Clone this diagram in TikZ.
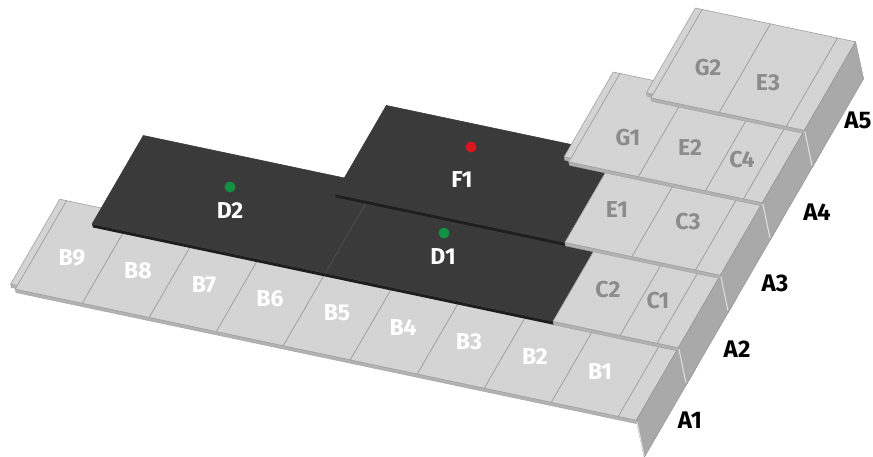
\documentclass[tikz,border=0pt]{standalone}
\usepackage{fontspec}
\setmainfont{Fira Sans}
\definecolor{panel}{HTML}{D4D4D4}
\definecolor{seam}{HTML}{A0A0A0}
\definecolor{darkpanel}{HTML}{3A3A3A}
\definecolor{darkseam}{HTML}{4E4E4E}
\definecolor{stripcol}{HTML}{B2B2B2}
\definecolor{darkstripcol}{HTML}{1E1E1E}
\definecolor{facecol}{HTML}{A9A9A9}
\definecolor{labelgrey}{HTML}{8C8C8C}
\definecolor{pingreen}{HTML}{119141}
\definecolor{pinred}{HTML}{D9161F}

% end face of a row (right-hand fold), between depths #1 and #2
\newcommand\rowface[2]{%
  \path[endface] (9.27,#1) -- (9.27,#2) -- ([shift={(8pt,-37pt)}]9.27,#2)
    -- ([shift={(8pt,-37pt)}]9.27,#1) -- cycle;
  \draw[bevel] ([shift={(0.6pt,-1.5pt)}]9.27,#1) -- ([shift={(7.6pt,-35pt)}]9.27,#1);
}
% thin front edge of a row: style, from u, to u, at depth v
\newcommand\frontstrip[4]{%
  \path[#1] (#2,#4) -- (#3,#4) -- ([shift={(0.8pt,-3.5pt)}]#3,#4)
    -- ([shift={(0.8pt,-3.5pt)}]#2,#4) -- cycle;
}

\begin{document}
\begin{tikzpicture}[x=1pt,y=1pt,
  lite/.style={fill=panel, draw=seam, line width=0.6pt, line join=round},
  darkp/.style={fill=darkpanel, draw=darkpanel, line width=0.6pt, line join=round},
  seamline/.style={draw=seam, line width=0.8pt},
  dseamline/.style={draw=darkseam, line width=0.8pt},
  edgestrip/.style={fill=stripcol, draw=seam, line width=0.4pt},
  darkstrip/.style={fill=darkstripcol},
  endface/.style={fill=facecol, draw=facecol!88!black, line width=0.5pt, line join=round},
  bevel/.style={draw=panel!85!white, line width=1.2pt, line cap=round},
  lbl/.style={font=\fontsize{23}{23}\selectfont\bfseries, inner sep=0pt},
  wlbl/.style={lbl, text=white},
  glbl/.style={lbl, text=labelgrey},
  rowlbl/.style={inner sep=0pt, text=black, font=\fontsize{24}{24}\selectfont\bfseries},
  pin/.style={circle, inner sep=0pt, minimum size=11pt}
]
\useasboundingbox (0,0) rectangle (873,-456);

% u runs along a row (one panel per unit), v runs up the slope (one row step per unit)
\begin{scope}[shift={(15.25pt,-289.1pt)}, x={(67pt,-14.15pt)}, y={(42pt,72.5pt)}]

  % ---- row A1 : B9 ... B1
  \frontstrip{edgestrip}{0}{9.27}{0}
  \frontstrip{edgestrip}{-0.1}{0}{0.05}
  \path[lite] (0,0) -- (9.27,0) -- (9.27,1.22) -- (0,1.22) -- cycle;
  \path[lite] (-0.1,0.05) -- (0,0.05) -- (0,1.22) -- (-0.1,1.22) -- cycle;
  \foreach \u in {1,...,9} \draw[seamline] (\u,0) -- (\u,1.22);
  \rowface{0}{1.22}

  % ---- row A2 : D2, D1, C2, C1
  \frontstrip{darkstrip}{0.52}{7.4}{1}
  \frontstrip{edgestrip}{7.4}{9.27}{1}
  \path[darkp] (0.52,1) -- (7.4,1) -- (7.4,2.22) -- (0.52,2.22) -- cycle;
  \draw[dseamline] (4.0,1) -- (4.0,2.22);
  \path[lite] (7.4,1) -- (9.27,1) -- (9.27,2.22) -- (7.4,2.22) -- cycle;
  \foreach \u in {8.4,8.95} \draw[seamline] (\u,1) -- (\u,2.22);
  \rowface{1}{2.22}

  % ---- row A3 : F1, E1, C3
  \frontstrip{darkstrip}{3.52}{6.95}{2}
  \frontstrip{edgestrip}{6.95}{9.27}{2}
  \path[darkp] (3.52,2) -- (6.95,2) -- (6.95,3.22) -- (3.52,3.22) -- cycle;
  \path[lite] (6.95,2) -- (9.27,2) -- (9.27,3.22) -- (6.95,3.22) -- cycle;
  \foreach \u in {7.95,8.9} \draw[seamline] (\u,2) -- (\u,3.22);
  \rowface{2}{3.22}

  % ---- row A4 : G1, E2, C4
  \frontstrip{edgestrip}{6.38}{9.27}{3}
  \frontstrip{edgestrip}{6.28}{6.38}{3.05}
  \path[lite] (6.38,3) -- (9.27,3) -- (9.27,4.22) -- (6.38,4.22) -- cycle;
  \path[lite] (6.28,3.05) -- (6.38,3.05) -- (6.38,4.22) -- (6.28,4.22) -- cycle;
  \foreach \u in {7.42,8.42,8.99} \draw[seamline] (\u,3) -- (\u,4.22);
  \rowface{3}{4.22}

  % ---- row A5 : G2, E3
  \frontstrip{edgestrip}{6.98}{9.27}{4}
  \frontstrip{edgestrip}{6.88}{6.98}{4.05}
  \path[lite] (6.98,4) -- (9.27,4) -- (9.27,5.22) -- (6.98,5.22) -- cycle;
  \path[lite] (6.88,4.05) -- (6.98,4.05) -- (6.98,5.22) -- (6.88,5.22) -- cycle;
  \foreach \u in {8.0,9.0} \draw[seamline] (\u,4) -- (\u,5.22);
  \rowface{4}{5.22}
\end{scope}

% ---- panel labels
\node[wlbl] (b9) at (72,-258) {B9};
\node[wlbl] (b8) at (138,-271) {B8};
\node[wlbl] (b7) at (204,-285) {B7};
\node[wlbl] (b6) at (270,-299) {B6};
\node[wlbl] (b5) at (337,-313) {B5};
\node[wlbl] (b4) at (403,-328) {B4};
\node[wlbl] (b3) at (469,-342) {B3};
\node[wlbl] (b2) at (535,-357) {B2};
\node[wlbl] (b1) at (600,-372) {B1};

\node[glbl] (c2) at (608,-290) {C2};
\node[glbl] (c1) at (658,-301) {C1};
\node[glbl] (e1) at (617,-210) {E1};
\node[glbl] (c3) at (688,-222) {C3};
\node[glbl] (g1) at (628,-138) {G1};
\node[glbl] (e2) at (690,-148) {E2};
\node[glbl] (c4) at (742,-160) {C4};
\node[glbl] (g2) at (708,-68) {G2};
\node[glbl] (e3) at (768,-83) {E3};

\node[wlbl] (d2) at (230,-211) {D2};
\node[wlbl] (d1) at (443,-257) {D1};
\node[wlbl] (f1) at (462,-180) {F1};

\node[pin, fill=pingreen] (d2pin) at (230,-187) {};
\node[pin, fill=pingreen] (d1pin) at (444,-233) {};
\node[pin, fill=pinred] (f1pin) at (471,-147) {};

% ---- row labels
\node[rowlbl] (a1) at (690,-420) {A1};
\node[rowlbl] (a2) at (737,-349) {A2};
\node[rowlbl] (a3) at (775,-283) {A3};
\node[rowlbl] (a4) at (817,-212) {A4};
\node[rowlbl] (a5) at (858,-120) {A5};
\end{tikzpicture}
\end{document}
